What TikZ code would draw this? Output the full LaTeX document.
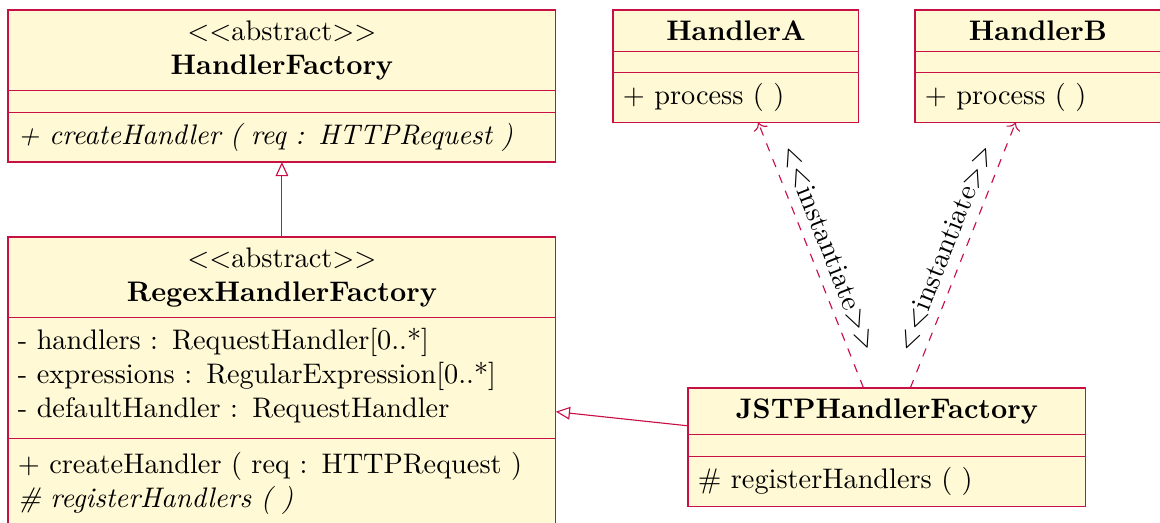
\documentclass[tikz,border=0pt]{standalone}
\usetikzlibrary{shapes.multipart,arrows.meta}
\definecolor{umlline}{RGB}{200,16,70}
\definecolor{umlfill}{RGB}{255,250,213}
\newcommand{\midline}[1]{\makebox[\hsize]{#1}}

\begin{document}
\begin{tikzpicture}[x=0.012414cm, y=-0.012414cm,
  classbox/.style = {draw=umlline, fill=umlfill, rectangle split, rectangle split parts=3,
    rectangle split empty part height=0pt, rectangle split empty part depth=0pt,
    anchor=north west, inner xsep=3.5pt, inner ysep=3.6pt, outer sep=0pt, align=left},
  wide/.style = {text width=186.6pt},
  medium/.style = {text width=133.6pt},
  narrow/.style = {text width=79.9pt},
  inherit/.style = {draw=umlline, -{Triangle[open, length=5pt, width=4.5pt]}},
  depend/.style = {draw=umlline, dashed, ->}]
\useasboundingbox (0,0) rectangle (1160,523);

% classes
\node[classbox, wide] (handlerfactory) at (8,10) {\midline{$<<$abstract$>>$}\\ \midline{\textbf{HandlerFactory}}
  \nodepart{second}
  \nodepart{third}\textit{+ createHandler ( req : HTTPRequest )}};
\node[classbox, wide] (regexfactory) at (8,237) {\midline{$<<$abstract$>>$}\\ \midline{\textbf{RegexHandlerFactory}}
  \nodepart{second}- handlers : RequestHandler[0..*]\\ - expressions : RegularExpression[0..*]\\ - defaultHandler : RequestHandler\strut
  \nodepart{third}\strut+ createHandler ( req : HTTPRequest )\\ \textit{\# registerHandlers ( )}\strut};
\node[classbox, narrow] (handlera) at (613,10) {\midline{\textbf{HandlerA}}
  \nodepart{second}
  \nodepart{third}+ process ( )};
\node[classbox, narrow] (handlerb) at (915,10) {\midline{\textbf{HandlerB}}
  \nodepart{second}
  \nodepart{third}+ process ( )};
\node[classbox, medium] (jstpfactory) at (688,388) {\midline{\textbf{JSTPHandlerFactory}}
  \nodepart{second}
  \nodepart{third}\# registerHandlers ( )};

% relations
\draw[inherit] (regexfactory) -- (handlerfactory);
\draw[inherit] (jstpfactory) -- (regexfactory);
\draw[depend] (jstpfactory) -- node[sloped, above] {$<<$instantiate$>>$} (handlera);
\draw[depend] (jstpfactory) -- node[sloped, above] {$<<$instantiate$>>$} (handlerb);
\end{tikzpicture}
\end{document}
